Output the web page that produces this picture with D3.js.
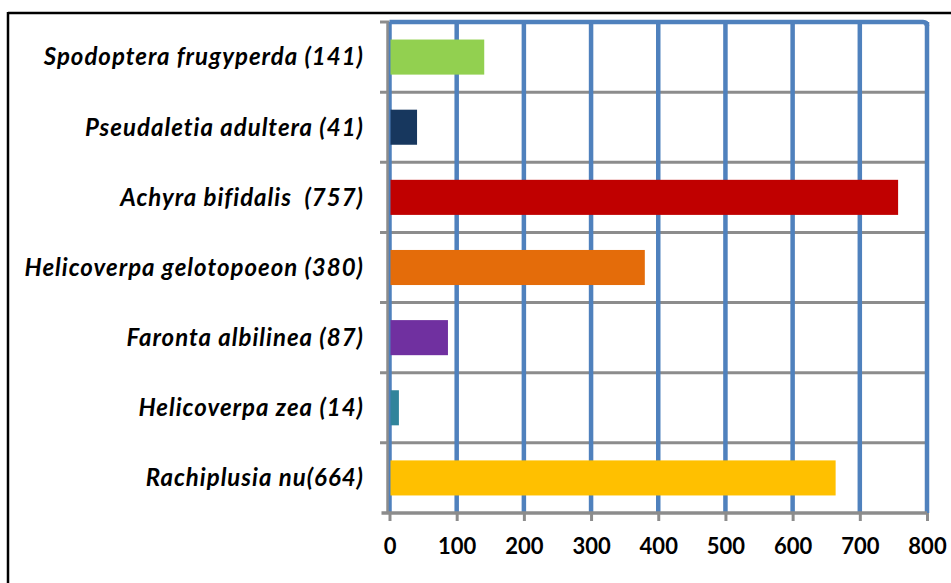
<!DOCTYPE html>
<html>
<head>
<meta charset="utf-8">
<script src="https://cdn.jsdelivr.net/npm/d3@7"></script>
<style>
body{margin:0;background:#fff;}
svg{display:block;}
</style>
</head>
<body>
<div id="chart"></div>
<script>
// categories top to bottom
var species=["Spodoptera frugyperda (141)","Pseudaletia adultera (41)","Achyra bifidalis  (757)","Helicoverpa gelotopoeon (380)","Faronta albilinea (87)","Helicoverpa zea (14)","Rachiplusia nu(664)"];
var counts=[141,41,757,380,87,14,664];
var barColors=["#92D050","#17375E","#C00000","#E46C0A","#7030A0","#31849B","#FFC000"];
var xTicks=[0,100,200,300,400,500,600,700,800];

var width=951, height=583;
var margin={top:22,right:24,bottom:70,left:389.5};

var svg=d3.select("#chart").append("svg")
	.attr("width",width)
	.attr("height",height);

// outer frame (only top and left visible)
svg.append("line").attr("x1",8).attr("x2",width).attr("y1",13).attr("y2",13)
	.attr("stroke","#000").attr("stroke-width",2.5);
svg.append("line").attr("x1",8).attr("x2",8).attr("y1",12).attr("y2",height)
	.attr("stroke","#000").attr("stroke-width",2.5);

var xScale=d3.scaleLinear().domain([0,800]).range([margin.left,927]);
var yScale=d3.scaleBand().domain(species).range([margin.top,513]).paddingInner(0.5).paddingOuter(0.25);

var step=yScale.step();
var bounds=d3.range(species.length+1).map(function(i){return margin.top+i*step;});

// gray category separators + left ticks
svg.selectAll(".sep").data(bounds.slice(1,-1)).enter().append("line")
	.attr("class","sep")
	.attr("x1",380).attr("x2",xScale(800))
	.attr("y1",function(d){return d;}).attr("y2",function(d){return d;})
	.attr("stroke","#8c8c8c").attr("stroke-width",3);
svg.append("line").attr("x1",380).attr("x2",xScale(0)).attr("y1",margin.top).attr("y2",margin.top)
	.attr("stroke","#8c8c8c").attr("stroke-width",3);

// blue vertical grid
svg.selectAll(".grid").data(xTicks).enter().append("line")
	.attr("class","grid")
	.attr("x1",function(d){return xScale(d);}).attr("x2",function(d){return xScale(d);})
	.attr("y1",margin.top).attr("y2",513)
	.attr("stroke","#4F81BD").attr("stroke-width",4.5);
// blue top border
svg.append("path")
	.attr("d","M"+xScale(0)+","+margin.top+" H"+(xScale(800)-4)+" Q"+xScale(800)+","+margin.top+" "+xScale(800)+","+(margin.top+4))
	.attr("fill","none").attr("stroke","#4F81BD").attr("stroke-width",4.5);

// left axis line (gray)
svg.append("line").attr("x1",xScale(0)-2).attr("x2",xScale(0)-2).attr("y1",margin.top).attr("y2",513)
	.attr("stroke","#8c8c8c").attr("stroke-width",2.5);

// bars
svg.selectAll(".bar").data(counts).enter().append("rect")
	.attr("class","bar")
	.attr("x",xScale(0)+1)
	.attr("y",function(d,i){return yScale(species[i]);})
	.attr("width",function(d){return xScale(d)-xScale(0)-1;})
	.attr("height",yScale.bandwidth())
	.attr("fill",function(d,i){return barColors[i];});

// bottom axis
var xAxis=d3.axisBottom(xScale).tickValues(xTicks).tickSize(8).tickPadding(17);
var gx=svg.append("g").attr("transform","translate(0,513)").call(xAxis);
gx.select(".domain").attr("stroke","#8c8c8c").attr("stroke-width",3.5)
	.attr("d","M"+(xScale(0)-8)+",0H"+xScale(800));
gx.selectAll(".tick line").attr("stroke","#8c8c8c").attr("stroke-width",3);
gx.selectAll(".tick text")
	.attr("fill","#000")
	.style("font-family","Lato, 'Open Sans', sans-serif")
	.style("font-weight","bold")
	.style("font-size","22px");

// category labels
svg.selectAll(".lab").data(species).enter().append("text")
	.attr("class","lab")
	.attr("x",364)
	.attr("y",function(d){return yScale(d)+yScale.bandwidth()/2;})
	.attr("dy","0.35em")
	.attr("text-anchor","end")
	.style("font-family","Lato, 'Open Sans', sans-serif")
	.style("font-weight","bold")
	.style("font-style","italic")
	.style("font-size","24px")
	.style("letter-spacing","1px")
	.style("white-space","pre")
	.attr("fill","#000")
	.text(function(d){return d;});
</script>
</body>
</html>
